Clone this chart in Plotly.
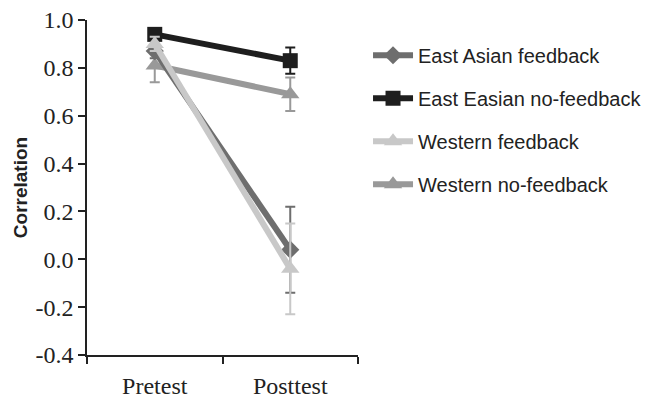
import plotly.graph_objects as go

categories = ["Pretest", "Posttest"]
series_names = ["East Asian feedback", "East Easian no-feedback", "Western feedback", "Western no-feedback"]
ea_fb = [0.87, 0.04]
ea_fb_err = [0.03, 0.18]
ea_nofb = [0.94, 0.83]
ea_nofb_err = [0.02, 0.055]
w_fb = [0.90, -0.04]
w_fb_err = [0.03, 0.19]
w_nofb = [0.81, 0.69]
w_nofb_err = [0.07, 0.07]
ytick_vals = [-0.4, -0.2, 0.0, 0.2, 0.4, 0.6, 0.8, 1.0]
ytick_text = ["-0.4", "-0.2", "0.0", "0.2", "0.4", "0.6", "0.8", "1.0"]

styles = {
    "East Asian feedback": dict(color="#6e6e6e", symbol="diamond", size=14),
    "East Easian no-feedback": dict(color="#1e1e1e", symbol="square", size=15),
    "Western feedback": dict(color="#c8c8c8", symbol="triangle-up", size=16),
    "Western no-feedback": dict(color="#999999", symbol="triangle-up", size=16),
}
data = {
    "East Asian feedback": (ea_fb, ea_fb_err),
    "East Easian no-feedback": (ea_nofb, ea_nofb_err),
    "Western feedback": (w_fb, w_fb_err),
    "Western no-feedback": (w_nofb, w_nofb_err),
}
draw_order = ["Western no-feedback", "East Asian feedback", "East Easian no-feedback", "Western feedback"]

fig = go.Figure()
for name in draw_order:
    vals, errs = data[name]
    st = styles[name]
    fig.add_trace(go.Scatter(
        x=categories, y=vals, name=name, mode="lines+markers",
        legendrank=series_names.index(name) + 1,
        legendgroup=name,
        line=dict(color=st["color"], width=6),
        marker=dict(color=st["color"], symbol=st["symbol"], size=st["size"]),
        error_y=dict(type="data", array=errs, color=st["color"], thickness=2, width=5),
    ))

fig.update_layout(
    width=645, height=402,
    margin=dict(l=87, r=287, t=20, b=47, autoexpand=False),
    paper_bgcolor="white", plot_bgcolor="white",
    showlegend=True,
    legend=dict(
        x=1.037, y=0.953, xanchor="left", yanchor="top",
        font=dict(family="Liberation Sans, Arial", size=20, color="#222"),
        tracegroupgap=14, itemwidth=40,
        bgcolor="rgba(0,0,0,0)",
    ),
    xaxis=dict(
        type="category", range=[-0.5, 1.5],
        showline=True, linecolor="#222", linewidth=1.5,
        ticks="outside", tickson="boundaries", ticklen=7, tickcolor="#222", tickwidth=1.5,
        showgrid=False, zeroline=False, ticklabelstandoff=8,
        tickfont=dict(family="Liberation Serif, Times New Roman, serif", size=24, color="#222"),
    ),
    yaxis=dict(
        range=[-0.4, 1.0],
        tickvals=ytick_vals, ticktext=ytick_text,
        showline=True, linecolor="#222", linewidth=1.5,
        ticks="outside", ticklen=7, tickcolor="#222", tickwidth=1.5,
        showgrid=False, zeroline=False,
        tickfont=dict(family="Liberation Serif, Times New Roman, serif", size=24, color="#222"),
        title=dict(text="<b>Correlation</b>", standoff=3,
                   font=dict(family="Liberation Sans, Arial", size=19, color="#222")),
    ),
)

fig.write_html("out.html")
